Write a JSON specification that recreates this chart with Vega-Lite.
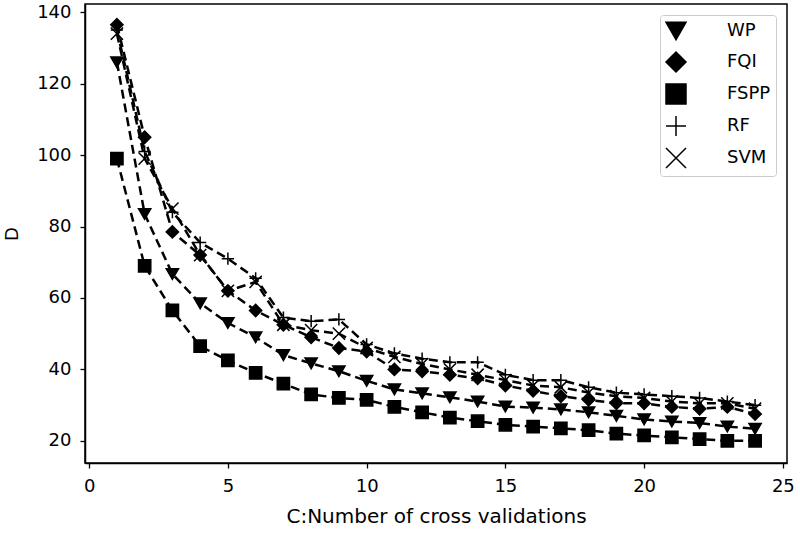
{
  "$schema": "https://vega.github.io/schema/vega-lite/v6.json",
  "width": 702,
  "height": 459,
  "autosize": "none",
  "padding": {"left": 85, "top": 4, "right": 13, "bottom": 70},
  "background": "white",
  "config": {
    "font": "DejaVu Sans",
    "view": {"stroke": "black", "strokeWidth": 1.5},
    "axis": {
      "grid": false,
      "domainColor": "black",
      "domainWidth": 1.5,
      "tickColor": "black",
      "tickWidth": 1.3,
      "tickSize": 5,
      "labelColor": "black",
      "labelFontSize": 18,
      "labelPadding": 9,
      "titleColor": "black",
      "titleFontSize": 20,
      "titleFontWeight": "normal"
    }
  },
  "data": {
    "values": [
      {"x":1,"s":"WP","v":126},{"x":2,"s":"WP","v":83.5},{"x":3,"s":"WP","v":66.7},{"x":4,"s":"WP","v":58.5},{"x":5,"s":"WP","v":53},{"x":6,"s":"WP","v":49},{"x":7,"s":"WP","v":44},{"x":8,"s":"WP","v":41.7},{"x":9,"s":"WP","v":39.5},{"x":10,"s":"WP","v":36.8},{"x":11,"s":"WP","v":34.4},{"x":12,"s":"WP","v":33.3},{"x":13,"s":"WP","v":32.2},{"x":14,"s":"WP","v":31},{"x":15,"s":"WP","v":29.6},{"x":16,"s":"WP","v":29.3},{"x":17,"s":"WP","v":28.8},{"x":18,"s":"WP","v":28},{"x":19,"s":"WP","v":27},{"x":20,"s":"WP","v":26},{"x":21,"s":"WP","v":25.4},{"x":22,"s":"WP","v":25},{"x":23,"s":"WP","v":24},{"x":24,"s":"WP","v":23.4},
      {"x":1,"s":"FQI","v":136.5},{"x":2,"s":"FQI","v":105},{"x":3,"s":"FQI","v":78.5},{"x":4,"s":"FQI","v":72},{"x":5,"s":"FQI","v":62},{"x":6,"s":"FQI","v":56.5},{"x":7,"s":"FQI","v":52.5},{"x":8,"s":"FQI","v":49},{"x":9,"s":"FQI","v":46},{"x":10,"s":"FQI","v":45},{"x":11,"s":"FQI","v":40},{"x":12,"s":"FQI","v":39.5},{"x":13,"s":"FQI","v":38.5},{"x":14,"s":"FQI","v":37.5},{"x":15,"s":"FQI","v":35.5},{"x":16,"s":"FQI","v":34},{"x":17,"s":"FQI","v":32.5},{"x":18,"s":"FQI","v":31.5},{"x":19,"s":"FQI","v":30.5},{"x":20,"s":"FQI","v":30.5},{"x":21,"s":"FQI","v":29.5},{"x":22,"s":"FQI","v":29},{"x":23,"s":"FQI","v":29.5},{"x":24,"s":"FQI","v":27.5},
      {"x":1,"s":"FSPP","v":99},{"x":2,"s":"FSPP","v":69},{"x":3,"s":"FSPP","v":56.5},{"x":4,"s":"FSPP","v":46.5},{"x":5,"s":"FSPP","v":42.5},{"x":6,"s":"FSPP","v":39},{"x":7,"s":"FSPP","v":36},{"x":8,"s":"FSPP","v":33},{"x":9,"s":"FSPP","v":32},{"x":10,"s":"FSPP","v":31.5},{"x":11,"s":"FSPP","v":29.5},{"x":12,"s":"FSPP","v":28},{"x":13,"s":"FSPP","v":26.5},{"x":14,"s":"FSPP","v":25.5},{"x":15,"s":"FSPP","v":24.5},{"x":16,"s":"FSPP","v":24},{"x":17,"s":"FSPP","v":23.5},{"x":18,"s":"FSPP","v":23},{"x":19,"s":"FSPP","v":22},{"x":20,"s":"FSPP","v":21.5},{"x":21,"s":"FSPP","v":21},{"x":22,"s":"FSPP","v":20.5},{"x":23,"s":"FSPP","v":20},{"x":24,"s":"FSPP","v":20},
      {"x":1,"s":"RF","v":135},{"x":2,"s":"RF","v":101},{"x":3,"s":"RF","v":84},{"x":4,"s":"RF","v":75.5},{"x":5,"s":"RF","v":71},{"x":6,"s":"RF","v":65.5},{"x":7,"s":"RF","v":54.5},{"x":8,"s":"RF","v":53.5},{"x":9,"s":"RF","v":54},{"x":10,"s":"RF","v":47},{"x":11,"s":"RF","v":44.5},{"x":12,"s":"RF","v":43},{"x":13,"s":"RF","v":42},{"x":14,"s":"RF","v":42},{"x":15,"s":"RF","v":38.5},{"x":16,"s":"RF","v":37},{"x":17,"s":"RF","v":37},{"x":18,"s":"RF","v":35},{"x":19,"s":"RF","v":33.5},{"x":20,"s":"RF","v":33},{"x":21,"s":"RF","v":32.5},{"x":22,"s":"RF","v":32},{"x":23,"s":"RF","v":31},{"x":24,"s":"RF","v":30},
      {"x":1,"s":"SVM","v":134},{"x":2,"s":"SVM","v":99},{"x":3,"s":"SVM","v":85},{"x":4,"s":"SVM","v":72},{"x":5,"s":"SVM","v":62},{"x":6,"s":"SVM","v":64.5},{"x":7,"s":"SVM","v":52.5},{"x":8,"s":"SVM","v":51},{"x":9,"s":"SVM","v":50},{"x":10,"s":"SVM","v":46},{"x":11,"s":"SVM","v":43.5},{"x":12,"s":"SVM","v":41.5},{"x":13,"s":"SVM","v":40},{"x":14,"s":"SVM","v":38.5},{"x":15,"s":"SVM","v":37},{"x":16,"s":"SVM","v":35.5},{"x":17,"s":"SVM","v":35},{"x":18,"s":"SVM","v":33.5},{"x":19,"s":"SVM","v":32.5},{"x":20,"s":"SVM","v":32},{"x":21,"s":"SVM","v":31},{"x":22,"s":"SVM","v":30.5},{"x":23,"s":"SVM","v":30.5},{"x":24,"s":"SVM","v":29}
    ]
  },
  "encoding": {
    "x": {
      "field": "x", "type": "quantitative",
      "scale": {"domain": [-0.15, 25.15], "nice": false, "zero": false},
      "axis": {"values": [0, 5, 10, 15, 20, 25], "title": "C:Number of cross validations", "titlePadding": 11}
    },
    "y": {
      "field": "v", "type": "quantitative",
      "scale": {"domain": [13.8, 142.3], "nice": false, "zero": false},
      "axis": {"values": [20, 40, 60, 80, 100, 120, 140], "title": "D", "titlePadding": 15, "titleFontSize": 18}
    }
  },
  "layer": [
    {
      "mark": {"type": "line", "stroke": "black", "strokeWidth": 2.5, "strokeDash": [9, 5]},
      "encoding": {"detail": {"field": "s"}}
    },
    {
      "mark": {"type": "point", "filled": true, "fill": "black", "stroke": "black", "strokeWidth": 1.5, "size": 150, "opacity": 1},
      "encoding": {
        "shape": {
          "field": "s", "type": "nominal",
          "scale": {
            "domain": ["WP", "FQI", "FSPP", "RF", "SVM"],
            "range": ["triangle-down", "diamond", "square", "M-1,0H1M0,-1V1", "M-1,-1L1,1M-1,1L1,-1"]
          },
          "legend": {
            "title": null,
            "orient": "top-right",
            "offset": 11,
            "padding": 5,
            "strokeColor": "#cccccc",
            "fillColor": "white",
            "cornerRadius": 3,
            "symbolSize": 400,
            "rowPadding": 6,
            "labelOffset": 40,
            "labelFontSize": 18,
            "labelColor": "black"
          }
        }
      }
    }
  ]
}
